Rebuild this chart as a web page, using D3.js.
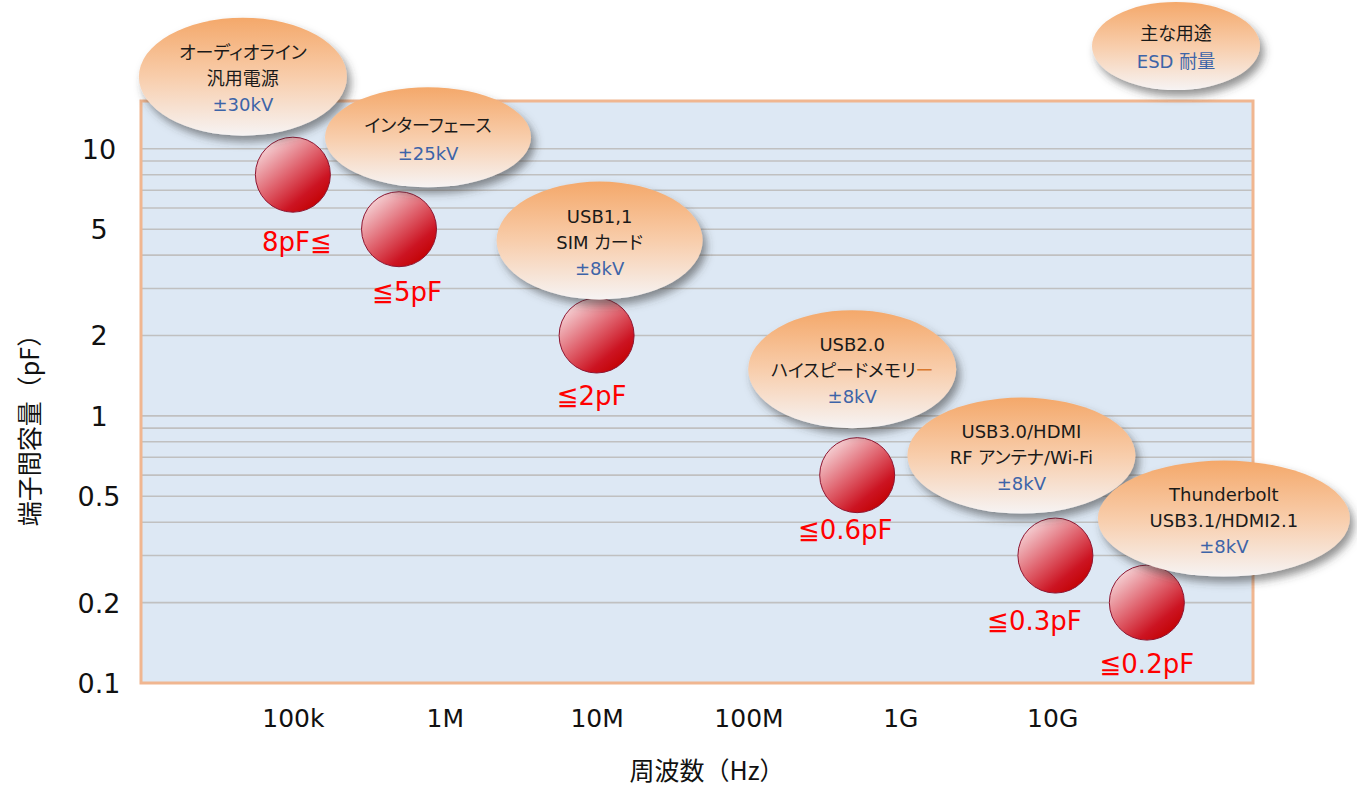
<!DOCTYPE html>
<html>
<head>
<meta charset="utf-8">
<script src="https://cdn.jsdelivr.net/npm/d3@7"></script>
<style>
  html, body { margin: 0; padding: 0; background: #ffffff; }
  svg { display: block; }
</style>
</head>
<body>
<svg id="chart" width="1357" height="789"></svg>
<script>
// Capacitance classes: working frequency (Hz) and terminal capacitance (pF)
const bubbleFreq = [1e5, 5e5, 1e7, 5.2e8, 1.05e10, 4.2e10];
const bubbleCap = [8, 5, 2, 0.6, 0.3, 0.2];
const bubbleLabels = ["8pF≦", "≦5pF", "≦2pF", "≦0.6pF", "≦0.3pF", "≦0.2pF"];

// Main applications and ESD withstand for each class
const useLines = [
  ["オーディオライン", "汎用電源"],
  ["インターフェース"],
  ["USB1,1", "SIM カード"],
  ["USB2.0", "ハイスピードメモリ"],
  ["USB3.0/HDMI", "RF アンテナ/Wi-Fi"],
  ["Thunderbolt", "USB3.1/HDMI2.1"]
];
const esdRatings = ["±30kV", "±25kV", "±8kV", "±8kV", "±8kV", "±8kV"];

// Axis ticks
const xTickValues = [1e5, 1e6, 1e7, 1e8, 1e9, 1e10];
const xTickLabels = ["100k", "1M", "10M", "100M", "1G", "10G"];
const yTickValues = [0.1, 0.2, 0.5, 1, 2, 5, 10];
const yTickLabels = ["0.1", "0.2", "0.5", "1", "2", "5", "10"];

// Legend bubble text
const legendTitle = "主な用途";
const legendSub = "ESD 耐量";

// ---- layout ----
const plot = { left: 141, right: 1253, top: 101, bottom: 683 };
const labelShift = [[4, 67], [8, 63], [-5, 60], [-12, 55], [-21, 65], [0, 61]];
const calloutShift = [[-50, -98], [29, -92], [3, -95], [-5, -106], [-34, -100], [77, -84]];
const calloutRadii = [[104, 59], [103, 50], [103, 59], [104, 59], [114, 58], [126, 58]];
const bubbleR = 37.5;

const svg = d3.select("#chart");
const x = d3.scaleLog().domain([1e4, 2.1e11]).range([plot.left, plot.right]);
const y = d3.scaleLog().domain([0.1, 15.1]).range([plot.bottom, plot.top]);

const LATIN = "'DejaVu Sans', 'Noto Sans CJK JP', sans-serif";
const CJK = "'DejaVu Sans', 'Noto Sans CJK JP', sans-serif";

// ---- defs: gradients and shadow ----
const defs = svg.append("defs");
const orange = defs.append("linearGradient").attr("id", "calloutFill")
  .attr("x1", 0).attr("y1", 0).attr("x2", 0).attr("y2", 1);
[["0", "#f4a86a"], ["0.5", "#f8cdab"], ["1", "#f6f3f3"]].forEach(([o, c]) =>
  orange.append("stop").attr("offset", o).attr("stop-color", c));

const red = defs.append("linearGradient").attr("id", "bubbleFill")
  .attr("x1", 0.15).attr("y1", 0.08).attr("x2", 0.85).attr("y2", 0.92);
[["0", "#f6d6d9"], ["0.45", "#e0646f"], ["0.78", "#cc1422"], ["1", "#c20000"]].forEach(([o, c]) =>
  red.append("stop").attr("offset", o).attr("stop-color", c));

const shadow = defs.append("filter").attr("id", "shadow")
  .attr("x", "-20%").attr("y", "-20%").attr("width", "150%").attr("height", "160%");
shadow.append("feDropShadow").attr("dx", 4).attr("dy", 6).attr("stdDeviation", 4)
  .attr("flood-color", "#3a3a3a").attr("flood-opacity", 0.55);

// ---- plot area ----
svg.append("rect")
  .attr("x", plot.left).attr("y", plot.top)
  .attr("width", plot.right - plot.left).attr("height", plot.bottom - plot.top)
  .attr("fill", "#dde8f4");

const gridValues = y.ticks().filter(v => v > 0.1 && v <= 10);
svg.append("g").selectAll("line").data(gridValues).join("line")
  .attr("x1", plot.left).attr("x2", plot.right)
  .attr("y1", d => y(d)).attr("y2", d => y(d))
  .attr("stroke", "#c0c0c0").attr("stroke-width", 1.6);

svg.append("rect")
  .attr("x", plot.left).attr("y", plot.top)
  .attr("width", plot.right - plot.left).attr("height", plot.bottom - plot.top)
  .attr("fill", "none").attr("stroke", "#f0b690").attr("stroke-width", 3);

// ---- axes ----
const xAxis = svg.append("g").attr("transform", `translate(0,${plot.bottom})`)
  .call(d3.axisBottom(x).tickValues(xTickValues).tickFormat((d, i) => xTickLabels[i]).tickSize(0));
xAxis.select(".domain").remove();
xAxis.selectAll("text")
  .attr("y", 44).attr("dy", 0)
  .attr("fill", "#111").style("font-family", LATIN).style("font-size", "25px");

const yAxis = svg.append("g").attr("transform", `translate(${plot.left},0)`)
  .call(d3.axisLeft(y).tickValues(yTickValues).tickFormat((d, i) => yTickLabels[i]).tickSize(0));
yAxis.select(".domain").remove();
yAxis.selectAll("text")
  .attr("x", 99 - plot.left).attr("dy", "0.35em").attr("text-anchor", "middle")
  .attr("fill", "#111").style("font-family", LATIN).style("font-size", "27px");

svg.append("text")
  .attr("transform", "translate(30,424) rotate(-90)")
  .attr("text-anchor", "middle").attr("dy", "0.35em")
  .style("font-family", "'Noto Sans CJK JP', sans-serif").style("font-size", "25px")
  .attr("fill", "#111").text("端子間容量（pF）");

svg.append("text")
  .attr("x", 707).attr("y", 771).attr("dy", "0.35em")
  .attr("text-anchor", "middle")
  .style("font-family", "'Noto Sans CJK JP', sans-serif").style("font-size", "25px")
  .attr("fill", "#111").text("周波数（Hz）");

// ---- capacitance bubbles ----
const rows = bubbleFreq.map((f, i) => ({
  i, cx: x(f), cy: y(bubbleCap[i]), label: bubbleLabels[i],
  lines: useLines[i], esd: esdRatings[i]
}));

svg.append("g").selectAll("circle").data(rows).join("circle")
  .attr("cx", d => d.cx).attr("cy", d => d.cy).attr("r", bubbleR)
  .attr("fill", "url(#bubbleFill)").attr("stroke", "#8e1530").attr("stroke-width", 1);

svg.append("g").selectAll("text").data(rows).join("text")
  .attr("x", d => d.cx + labelShift[d.i][0])
  .attr("y", d => d.cy + labelShift[d.i][1])
  .attr("dy", "0.35em").attr("text-anchor", "middle")
  .style("font-family", LATIN).style("font-size", "26px")
  .attr("fill", "#ff0000").text(d => d.label);

// ---- application callouts ----
function callout(g, cx, cy, rx, ry, lines, blue) {
  g.append("ellipse").attr("cx", cx).attr("cy", cy).attr("rx", rx).attr("ry", ry)
    .attr("fill", "url(#calloutFill)").attr("filter", "url(#shadow)");
  const all = lines.map(t => ({ t, c: "#1a1a1a" })).concat([{ t: blue, c: "#3d64a8" }]);
  const offs = all.length === 3 ? [-24, 2, 28] : [-12, 16];
  all.forEach((ln, k) => {
    const t = g.append("text").attr("x", cx).attr("y", cy + offs[k]).attr("dy", "0.35em")
      .attr("text-anchor", "middle")
      .style("font-family", CJK).style("font-size", "18px")
      .style("font-feature-settings", "'palt'")
      .attr("fill", ln.c).text(ln.t);
    if (ln.t === "ハイスピードメモリ") {
      t.append("tspan").attr("fill", "#d9782d").text("ー");
    }
  });
}

const calloutLayer = svg.append("g");
rows.forEach(d => {
  callout(calloutLayer,
    d.cx + calloutShift[d.i][0], d.cy + calloutShift[d.i][1],
    calloutRadii[d.i][0], calloutRadii[d.i][1], d.lines, d.esd);
});

// legend bubble
callout(svg.append("g"), 1176, 46, 84, 44, [legendTitle], legendSub);
</script>
</body>
</html>
